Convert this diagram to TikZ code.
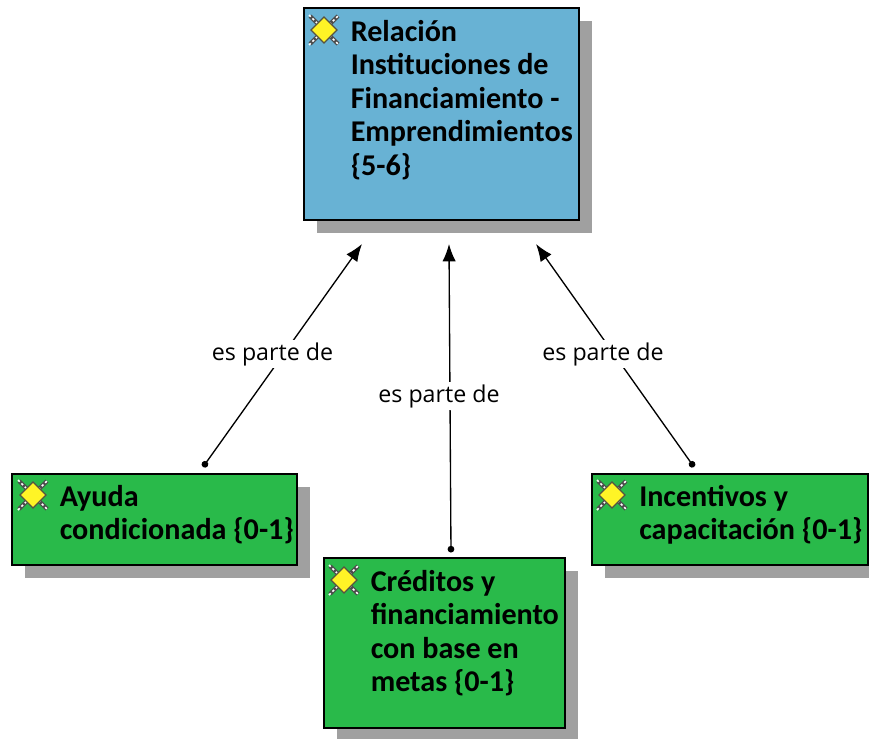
\documentclass[tikz,border=0pt]{standalone}
\usepackage{fontspec}
\setmainfont{Carlito}
\newfontfamily\labelfont{Open Sans}
\usetikzlibrary{arrows.meta,shadows}

\definecolor{boxblue}{RGB}{104,178,212}
\definecolor{boxgreen}{RGB}{41,186,74}
\definecolor{boxshadow}{RGB}{160,160,160}

\tikzset{
	box/.style={draw=black, line width=1.1pt, rectangle, inner sep=0pt,
		drop shadow={shadow xshift=9.75pt, shadow yshift=-9.75pt, fill=boxshadow, opacity=1}},
	title/.style={anchor=north west, align=left, inner sep=0pt, text=black,
		font=\fontsize{22.6}{25.1}\selectfont\bfseries},
	rel/.style={fill=white, inner sep=2pt, font=\labelfont\fontsize{17.4}{20}\selectfont},
	link/.style={line width=1pt, {Circle[length=5pt]}-{Latex[length=13pt,width=10pt]}},
	pics/mark/.style={code={
		\draw[black!70, line width=3pt] (-14,-14) -- (14,14) (-14,14) -- (14,-14);
		\draw[white, line width=1.2pt, dash pattern=on 1.8pt off 1.8pt] (-15,-15) -- (15,15) (-15,15) -- (15,-15);
		\draw[draw=black!60!yellow!60!black, fill=yellow!85!white, line width=.9pt] (-13,0) -- (0,-13) -- (13,0) -- (0,13) -- cycle;
	}}
}

\begin{document}
\begin{tikzpicture}[x=.75pt,y=-.75pt]
	\useasboundingbox (0,0) rectangle (869,739);

	\node[box, fill=boxblue, minimum width=206pt, minimum height=159pt] (n1) at (441.5,114) {};
	\node[box, fill=boxgreen, minimum width=213.75pt, minimum height=68.25pt] (n2) at (154.5,519.5) {};
	\node[box, fill=boxgreen, minimum width=180.75pt, minimum height=127.5pt] (n3) at (444.5,643) {};
	\node[box, fill=boxgreen, minimum width=207pt, minimum height=68.25pt] (n4) at (730,519.5) {};

	\pic at (324,30) {mark};
	\pic at (33,495) {mark};
	\pic at (344,580) {mark};
	\pic at (612,495) {mark};

	\node[title] (t1) at (350.5,20) {Relación\\Instituciones de\\Financiamiento -\\Emprendimientos\\\{5-6\}};
	\node[title] (t2) at (59.5,485) {Ayuda\\condicionada \{0-1\}};
	\node[title] (t3) at (370.5,570) {Créditos y\\financiamiento\\con base en\\metas \{0-1\}};
	\node[title] (t4) at (639,485) {Incentivos y\\capacitación \{0-1\}};

	\coordinate (a1) at (362,244);
	\coordinate (a2) at (449,244);
	\coordinate (a3) at (536,244);
	\coordinate (s2) at (203,467);
	\coordinate (s3) at (451,552.5);
	\coordinate (s4) at (694,467);

	\draw[link] (s2) -- (a1);
	\draw[link] (s3) -- (a2);
	\draw[link] (s4) -- (a3);

	\node[rel] (l2) at (272.5,354) {es parte de};
	\node[rel] (l3) at (439,396) {es parte de};
	\node[rel] (l4) at (603,354) {es parte de};
\end{tikzpicture}
\end{document}
